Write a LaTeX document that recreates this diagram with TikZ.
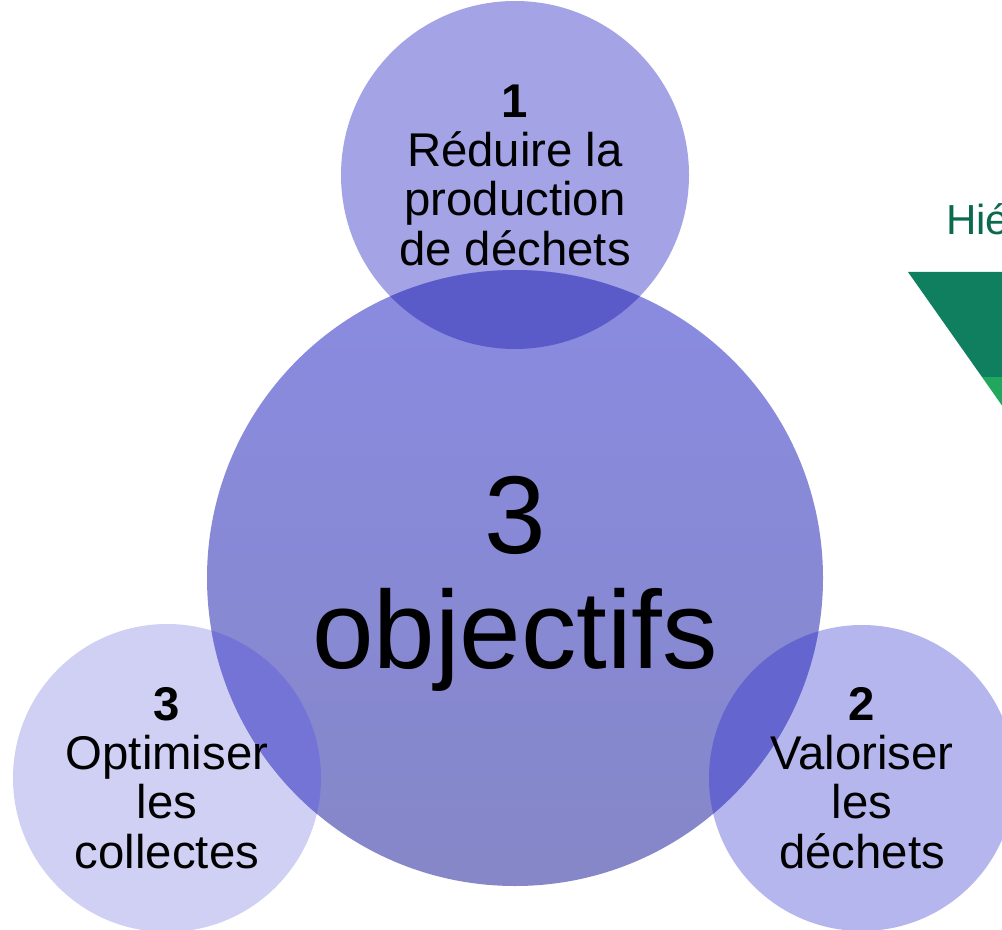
\documentclass[tikz,border=0pt]{standalone}
\usepackage{fontspec}
\setmainfont{Liberation Sans}
\usetikzlibrary{positioning, shapes, calc}
\definecolor{topblue}{HTML}{A3A3E6}
\definecolor{leftblue}{HTML}{D0D0F4}
\definecolor{rightblue}{HTML}{B6B6EE}
\definecolor{bigtop}{HTML}{8A8BE1}
\definecolor{bigbottom}{HTML}{8587C8}
\definecolor{overlaptop}{HTML}{5A5BC9}
\definecolor{overlapleft}{HTML}{7374D6}
\definecolor{overlapright}{HTML}{6465CF}
\definecolor{hiegreen}{HTML}{0B6A4E}
\definecolor{darkgreen}{HTML}{0F7F5F}
\definecolor{lightgreen}{HTML}{22A85E}

\begin{document}
\begin{tikzpicture}[x=0.75pt, y=-0.75pt,
	smalltext/.style={align=center, text=black, font=\fontsize{35.5}{37}\selectfont},
	bigtext/.style={align=center, text=black, font=\fontsize{83}{86}\selectfont}]
						\useasboundingbox (0,0) rectangle (1002,930);
						\pgfmathsetmacro{\rbig}{308}
						\pgfmathsetmacro{\rtop}{174}
						\pgfmathsetmacro{\rleft}{154}
						\pgfmathsetmacro{\rright}{153}
						\coordinate (objectifs) at (515,578);
						\coordinate (reduire) at (515,175);
						\coordinate (optimiser) at (167,778);
						\coordinate (valoriser) at (862,778);
						
						\fill[topblue] (reduire) circle (\rtop);
						\fill[leftblue] (optimiser) circle (\rleft);
						\fill[rightblue] (valoriser) circle (\rright);
						\shade[top color=bigtop, bottom color=bigbottom] (objectifs) circle (\rbig);
						
						\begin{scope}
							\clip (reduire) circle (\rtop);
							\fill[overlaptop] (objectifs) circle (\rbig);
						\end{scope}
						\begin{scope}
							\clip (optimiser) circle (\rleft);
							\fill[overlapleft] (objectifs) circle (\rbig);
						\end{scope}
						\begin{scope}
							\clip (valoriser) circle (\rright);
							\fill[overlapright] (objectifs) circle (\rbig);
						\end{scope}
						
						\node[bigtext] (txtobjectifs) at (515,584) {3\\objectifs};
						\node[smalltext] (txtreduire) at (reduire) {\textbf{1}\\Réduire la\\production\\de déchets};
						\node[smalltext] (txtoptimiser) at (optimiser) {\textbf{3}\\Optimiser\\les\\collectes};
						\node[smalltext] (txtvaloriser) at (valoriser) {\textbf{2}\\Valoriser\\les\\déchets};
						
						% pyramide coupee au bord
						\node[anchor=base west, inner sep=0pt, text=hiegreen, font=\fontsize{31.5}{33}\selectfont] (hie) at (946,235) {Hié};
						\fill[darkgreen] (908,272) -- (1010,272) -- (1010,377) -- (982,377) -- cycle;
						\fill[lightgreen] (982,377) -- (1010,377) -- (1010,417) -- cycle;
						\end{tikzpicture}
\end{document}
